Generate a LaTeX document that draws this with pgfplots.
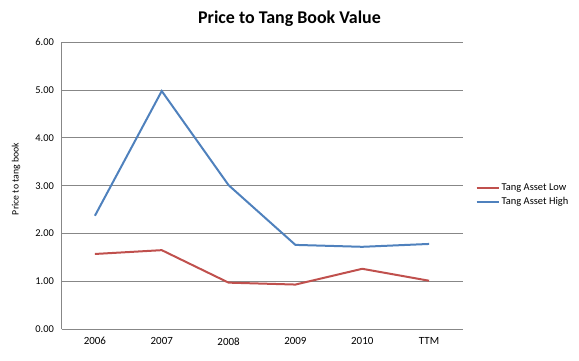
\documentclass[border=0pt]{standalone}
\usepackage{pgfplots}
\pgfplotsset{compat=1.18}
\usepackage{fontspec}
\setmainfont{Carlito}
\definecolor{exred}{HTML}{C0504D}
\definecolor{exblue}{HTML}{4F81BD}
\definecolor{gridgray}{HTML}{878787}
\begin{document}
\begin{tikzpicture}
\path[use as bounding box] (0,0) rectangle (579bp,361bp);
\begin{axis}[
  at={(61.5bp,32bp)}, anchor=south west,
  scale only axis, width=401bp, height=286.7bp,
  xmin=-0.5, xmax=5.5, ymin=0, ymax=6,
  xtick=data, xticklabels={2006,2007,2008,2009,2010,TTM},
  ytick={0,1,2,3,4,5,6},
  yticklabel={\pgfmathprintnumber[fixed,fixed zerofill,precision=2]{\tick}},
  /pgf/number format/assume math mode=true,
  ymajorgrids, grid style={gridgray, line width=0.8bp},
  axis x line=bottom, axis y line=left,
  axis line style={gridgray, line width=0.8bp, -},
  major tick length=0pt,
  xticklabel style={yshift=-5bp, font=\fontsize{11}{13}\selectfont},
  yticklabel style={xshift=-4bp, font=\fontsize{10.5}{12}\selectfont},
  legend style={draw=none, fill=none, at={(1,0.467)}, anchor=west, xshift=10bp,
     font=\fontsize{10.5}{12}\selectfont, row sep=1bp},
  legend cell align=left,
  legend image code/.code={\draw[#1] (0bp,0bp) -- (22bp,0bp);},
]
\addplot[exred, line width=2bp] coordinates {(0,1.57) (1,1.65) (2,0.97) (3,0.93) (4,1.26) (5,1.01)};
\addlegendentry{Tang Asset Low}
\addplot[exblue, line width=2bp] coordinates {(0,2.37) (1,4.98) (2,3.01) (3,1.76) (4,1.72) (5,1.78)};
\addlegendentry{Tang Asset High}
\end{axis}
\node[font=\bfseries\fontsize{18}{20}\selectfont] at (289.5bp,342bp) {Price to Tang Book Value};
\node[rotate=90, font=\fontsize{9.8}{11}\selectfont] at (16bp,182bp) {Price to tang book};
\end{tikzpicture}
\end{document}
